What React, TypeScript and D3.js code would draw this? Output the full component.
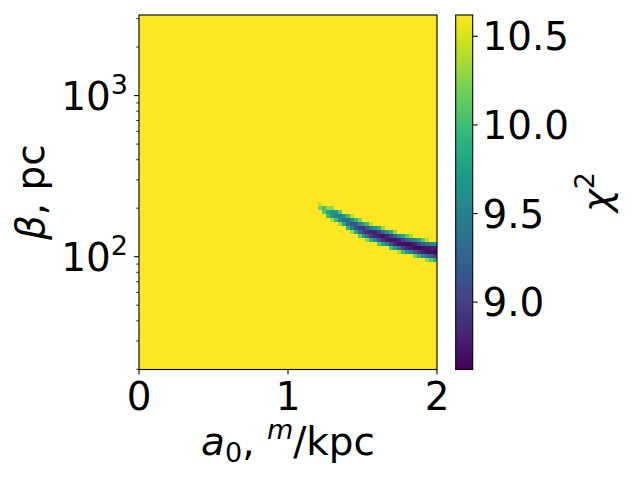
import React from "react";
import * as d3 from "d3";

// Grid of the heat map: a0 in [0, 2] (75 columns), log10(beta) in [1.3, 3.5] (89 rows, row 0 at the top)
const A0_DOMAIN = [0, 2];
const LOGBETA_DOMAIN = [1.3, 3.5];
const N_COLS = 75;
const N_ROWS = 89;
const BACKGROUND_CHI2 = 10.7; // saturated value everywhere outside the valley

// The chi^2 valley: column index of first band column,
// starting row for each column, and the values of the cells going down
const BAND_FIRST_COL = 45;
const bandStartRow = [47, 48, 48, 48, 49, 49, 50, 50, 50, 51, 51, 52, 52, 52, 53, 53, 53, 54, 54, 54, 55, 55, 55, 55, 56, 56, 56, 56, 57, 57];
const bandValues = [
  [10.45, 10.2],
  [10.0, 10.1],
  [10.3, 9.8, 10.0],
  [10.3, 9.7, 9.7, 10.4],
  [9.7, 9.55, 10.0],
  [10.1, 9.45, 9.6, 10.3],
  [9.7, 9.35, 9.8],
  [10.0, 9.3, 9.35, 9.9],
  [10.4, 9.6, 9.15, 9.5, 10.3],
  [9.9, 9.1, 9.1, 9.8],
  [10.2, 9.5, 8.95, 9.3, 10.1],
  [9.8, 8.9, 9.0, 9.7],
  [10.0, 9.2, 8.85, 9.4, 10.3],
  [10.4, 9.5, 8.8, 9.0, 9.9],
  [9.7, 8.8, 8.85, 9.6],
  [9.9, 9.0, 8.75, 9.2, 10.1],
  [10.3, 9.3, 8.72, 8.9, 9.8],
  [9.6, 8.8, 8.75, 9.5],
  [9.9, 9.0, 8.7, 9.1, 10.0],
  [10.3, 9.3, 8.7, 8.85, 9.7],
  [9.6, 8.8, 8.7, 9.4, 10.4],
  [9.8, 9.0, 8.68, 9.0, 10.0],
  [10.1, 9.2, 8.67, 8.85, 9.7],
  [10.4, 9.4, 8.7, 8.75, 9.5],
  [9.6, 8.8, 8.67, 9.2, 10.2],
  [9.8, 9.0, 8.66, 8.95, 9.9],
  [10.1, 9.2, 8.68, 8.8, 9.6],
  [10.4, 9.4, 8.7, 8.72, 9.4, 10.3],
  [9.5, 8.75, 8.7, 9.2, 10.1],
  [9.7, 8.8, 8.68, 9.0, 9.9],
];

const COLOR_DOMAIN = [8.62, 10.62];
const xTicks = [0, 1, 2];
const xTickLabels = ["0", "1", "2"];
const yMajorTicks = [100, 1000];
const yMajorExp = ["2", "3"];
const yMinorTicks = [20, 30, 40, 50, 60, 70, 80, 90, 200, 300, 400, 500, 600, 700, 800, 900, 2000, 3000];
const cbTicks = [9.0, 9.5, 10.0, 10.5];
const cbTickLabels = ["9.0", "9.5", "10.0", "10.5"];

const W = 640;
const H = 480;
const L = 139;
const R = 437;
const T = 15;
const B = 369.5;
const CB_L = 455.7;
const CB_R = 472.7;
const FONT = "DejaVu Sans, sans-serif";
const FS = 38.9;
const FS_SUP = 27;
const MAJ = 4.9;
const MIN = 2.8;

export default function App() {
  const x = d3.scaleLinear().domain(A0_DOMAIN).range([L, R]);
  const y = d3.scaleLog().domain(LOGBETA_DOMAIN.map((v) => Math.pow(10, v))).range([B, T]);
  const color = d3.scaleSequential(d3.interpolateViridis).domain(COLOR_DOMAIN).clamp(true);
  const cbY = d3.scaleLinear().domain(COLOR_DOMAIN).range([B, T]);

  const colW = (A0_DOMAIN[1] - A0_DOMAIN[0]) / N_COLS;
  const rowH = (LOGBETA_DOMAIN[1] - LOGBETA_DOMAIN[0]) / N_ROWS;

  const valueAt = (c: number, r: number) => {
    const k = c - BAND_FIRST_COL;
    if (k < 0 || k >= bandValues.length) return BACKGROUND_CHI2;
    const j = r - bandStartRow[k];
    if (j < 0 || j >= bandValues[k].length) return BACKGROUND_CHI2;
    return bandValues[k][j];
  };

  const cells: any[] = [];
  for (let c = 0; c < N_COLS; c++) {
    const x0 = x(A0_DOMAIN[0] + c * colW);
    const x1 = x(A0_DOMAIN[0] + (c + 1) * colW);
    for (let r = 0; r < N_ROWS; r++) {
      const top = y(Math.pow(10, LOGBETA_DOMAIN[1] - r * rowH));
      const bot = y(Math.pow(10, LOGBETA_DOMAIN[1] - (r + 1) * rowH));
      cells.push(
        <rect key={`${c}-${r}`} x={x0} y={top} width={x1 - x0 + 0.3} height={bot - top + 0.3} fill={color(valueAt(c, r))} />
      );
    }
  }

  const stops = d3.range(0, 1.0001, 0.05).map((t) => (
    <stop key={t} offset={`${t * 100}%`} stopColor={d3.interpolateViridis(t)} />
  ));

  return (
    <svg width={W} height={H} style={{ position: "absolute", left: 0, top: 0, background: "white" }} fontFamily={FONT}>
      <defs>
        <linearGradient id="cbgrad" x1="0" y1="1" x2="0" y2="0">
          {stops}
        </linearGradient>
      </defs>
      <g shapeRendering="crispEdges">{cells}</g>
      <rect x={L} y={T} width={R - L} height={B - T} fill="none" stroke="#000" strokeWidth={1.1} />

      {/* x axis */}
      {xTicks.map((t, i) => (
        <g key={t}>
          <line x1={x(t)} x2={x(t)} y1={B} y2={B + MAJ} stroke="#000" strokeWidth={1.1} />
          <text x={x(t)} y={410} fontSize={FS} textAnchor="middle">{xTickLabels[i]}</text>
        </g>
      ))}
      {/* y axis */}
      {yMinorTicks.map((t) => (
        <line key={t} x1={L - MIN} x2={L} y1={y(t)} y2={y(t)} stroke="#000" strokeWidth={0.85} />
      ))}
      {yMajorTicks.map((t, i) => (
        <g key={t}>
          <line x1={L - MAJ} x2={L} y1={y(t)} y2={y(t)} stroke="#000" strokeWidth={1.1} />
          <text x={128} y={y(t) + 14.5} fontSize={FS} textAnchor="end">
            10<tspan fontSize={FS_SUP} dy={-16.5}>{yMajorExp[i]}</tspan>
          </text>
        </g>
      ))}

      {/* axis labels */}
      <text x={(L + R) / 2} y={455} fontSize={FS} textAnchor="middle">
        <tspan fontStyle="italic">a</tspan>
        <tspan fontSize={FS_SUP} dy={7}>0</tspan>
        <tspan dy={-7}>, </tspan>
        <tspan fontSize={FS_SUP} fontStyle="italic" dy={-16}>m</tspan>
        <tspan dy={16}>/kpc</tspan>
      </text>
      <text transform={`translate(44, ${(T + B) / 2}) rotate(-90)`} fontSize={FS} textAnchor="middle">
        <tspan fontStyle="italic">β</tspan>
        <tspan>, pc</tspan>
      </text>

      {/* colorbar */}
      <rect x={CB_L} y={T} width={CB_R - CB_L} height={B - T} fill="url(#cbgrad)" />
      <rect x={CB_L} y={T} width={CB_R - CB_L} height={B - T} fill="none" stroke="#000" strokeWidth={1.1} />
      {cbTicks.map((t, i) => (
        <g key={t}>
          <line x1={CB_R} x2={CB_R + MAJ} y1={cbY(t)} y2={cbY(t)} stroke="#000" strokeWidth={1.1} />
          <text x={CB_R + MAJ + 4.9} y={cbY(t) + 14.2} fontSize={FS}>{cbTickLabels[i]}</text>
        </g>
      ))}
      <text transform={`translate(610, ${(T + B) / 2}) rotate(-90)`} fontSize={FS} textAnchor="middle">
        <tspan fontStyle="italic">χ</tspan>
        <tspan fontSize={FS_SUP} dy={-16}>2</tspan>
      </text>
    </svg>
  );
}
